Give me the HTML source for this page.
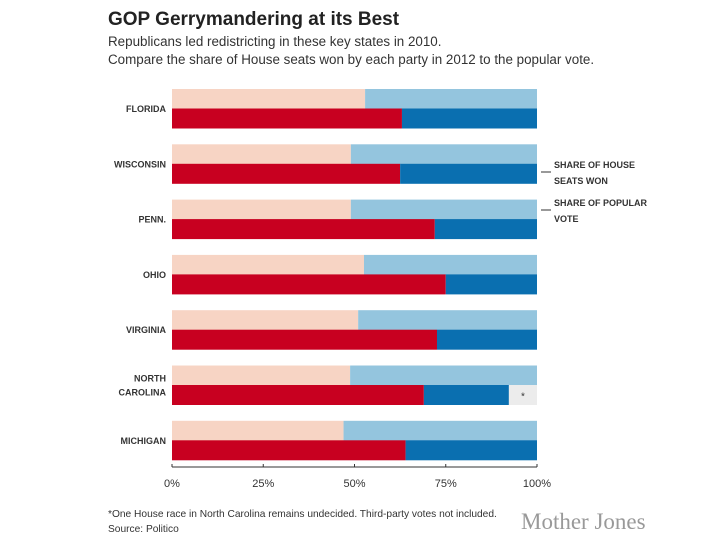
<!DOCTYPE html>
<html><head><meta charset="utf-8"><style>
body{margin:0;background:#fff;width:720px;height:540px;overflow:hidden;font-family:"Liberation Sans",sans-serif;}
svg{display:block}
</style></head><body>
<svg id="chart" width="720" height="540">
<text x="108" y="25" font-size="19" font-weight="bold" fill="#222">GOP Gerrymandering at its Best</text>
<text x="108" y="46" font-size="13.4" fill="#333">Republicans led redistricting in these key states in 2010.</text>
<text x="108" y="64" font-size="13.4" fill="#333">Compare the share of House seats won by each party in 2012 to the popular vote.</text>
<g id="bars"></g>
<g id="axis"></g>
<g font-size="9" font-weight="bold" fill="#333">
<line x1="541" x2="551" y1="172" y2="172" stroke="#333"/>
<text x="554" y="168">SHARE OF HOUSE</text><text x="554" y="184">SEATS WON</text>
<line x1="541" x2="551" y1="210" y2="210" stroke="#333"/>
<text x="554" y="206">SHARE OF POPULAR</text><text x="554" y="222">VOTE</text>
</g>
<text x="108" y="517" font-size="10.2" fill="#333">*One House race in North Carolina remains undecided. Third-party votes not included.</text>
<text x="108" y="532" font-size="10.2" fill="#333">Source: Politico</text>
<text x="521" y="529" font-size="23" font-family="Liberation Serif,serif" fill="#999">Mother Jones</text>
</svg>
<script>
const states=[["FLORIDA"],["WISCONSIN"],["PENN."],["OHIO"],["VIRGINIA"],["NORTH","CAROLINA"],["MICHIGAN"]];
const popularGop=[52.9,49,49,52.6,51,48.8,47];
const seatsGop=[63,62.5,72,75,72.6,69,64];
const seatsDem=[37,37.5,28,25,27.4,23.3,36];
const ticks=[0,25,50,75,100];
const tickLabels=["0%","25%","50%","75%","100%"];
const NS="http://www.w3.org/2000/svg";
const x0=172,x1=537;
const xs=v=>x0+(x1-x0)*v/100;
const yTop=i=>89+i*55.3;
const g=document.getElementById('bars');
function rect(x,y,w,h,c,name){const r=document.createElementNS(NS,'rect');r.setAttribute('x',x);r.setAttribute('y',y);r.setAttribute('width',Math.max(0,w));r.setAttribute('height',h);r.setAttribute('fill',c);


g.appendChild(r);return r;}
function txt(p,x,y,s,attrs){const t=document.createElementNS(NS,'text');t.setAttribute('x',x);t.setAttribute('y',y);t.textContent=s;for(const k in attrs)t.setAttribute(k,attrs[k]);p.appendChild(t);return t;}
states.forEach((st,i)=>{
 const y=yTop(i);
 rect(xs(0),y,xs(popularGop[i])-xs(0),20,'#f7d4c4','bar-popular-gop');
 rect(xs(popularGop[i]),y,xs(100)-xs(popularGop[i]),20,'#94c5de','bar-popular-dem');
 rect(xs(0),y+19.5,xs(seatsGop[i])-xs(0),20,'#c80020','bar-seats-gop');
 rect(xs(seatsGop[i]),y+19.5,xs(seatsGop[i]+seatsDem[i])-xs(seatsGop[i]),20,'#0a6fb0','bar-seats-dem');
 if(seatsGop[i]+seatsDem[i]<99.5){
  rect(xs(seatsGop[i]+seatsDem[i]),y+19.5,xs(100)-xs(seatsGop[i]+seatsDem[i]),20,'#ececec','bar-seats-undecided');
  const a=txt(g,(xs(seatsGop[i]+seatsDem[i])+xs(100))/2,y+34,'*',{'font-size':'10','text-anchor':'middle','fill':'#333'});
  
  
 }
 const cy=y+20;
 st.forEach((ln,k)=>{
  const t=txt(g,166,cy+3+(k-(st.length-1)/2)*14,ln,{'font-size':'9','font-weight':'bold','text-anchor':'end','fill':'#333'});
  
  
 });
});
const ax=document.getElementById('axis');
const l=document.createElementNS(NS,'line');l.setAttribute('x1',x0);l.setAttribute('x2',x1);l.setAttribute('y1',467);l.setAttribute('y2',467);l.setAttribute('stroke','#333');


ax.appendChild(l);
ticks.forEach((v,i)=>{
 const tk=document.createElementNS(NS,'line');tk.setAttribute('x1',xs(v));tk.setAttribute('x2',xs(v));tk.setAttribute('y1',464);tk.setAttribute('y2',467);tk.setAttribute('stroke','#333');
 
 
 ax.appendChild(tk);
 const t=txt(ax,xs(v),487,tickLabels[i],{'font-size':'11','text-anchor':'middle','fill':'#333'});
 
 
});
</script>
</body></html>
